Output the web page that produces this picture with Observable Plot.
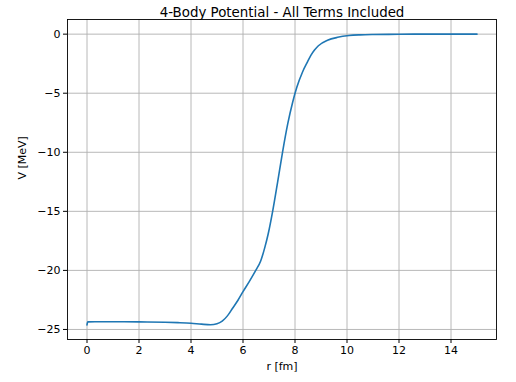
<!DOCTYPE html>
<html>
<head>
<meta charset="utf-8">
<script src="https://cdn.jsdelivr.net/npm/d3@7"></script>
<script src="https://cdn.jsdelivr.net/npm/@observablehq/plot@0.6"></script>
<style>
  html, body { margin: 0; padding: 0; background: #fff; }
  #chart svg { display: block; }
</style>
</head>
<body>
<div id="chart"></div>
<script>
const title = "4-Body Potential - All Terms Included";
const xLabel = "r [fm]";
const yLabel = "V [MeV]";
const xTicks = [0, 2, 4, 6, 8, 10, 12, 14];
const yTicks = [0, -5, -10, -15, -20, -25];

const rValues = [0, 0.03, 0.3, 1, 2, 3, 3.5, 4, 4.4, 4.75, 5.0, 5.2, 5.4, 5.6, 5.8, 6.0, 6.24, 6.49, 6.68, 6.84, 6.97, 7.14, 7.33, 7.52, 7.72, 7.91, 8.07, 8.29, 8.48, 8.61, 8.75, 8.9, 9.25, 9.64, 10.08, 10.5, 11, 12, 13, 14, 15];
const vValues = [-24.62, -24.36, -24.35, -24.35, -24.36, -24.39, -24.42, -24.47, -24.55, -24.6, -24.52, -24.3, -23.85, -23.2, -22.55, -21.8, -20.95, -20.0, -19.2, -18.05, -16.9, -15.0, -12.54, -10.0, -7.6, -5.76, -4.5, -3.2, -2.35, -1.8, -1.35, -0.98, -0.52, -0.27, -0.12, -0.06, -0.03, -0.01, 0, 0, 0];

const data = rValues.map((r, i) => ({r, v: vValues[i]}));

const font = "DejaVu Sans, sans-serif";

const chart = Plot.plot({
  width: 516,
  height: 382,
  marginLeft: 67,
  marginRight: 20,
  marginTop: 19,
  marginBottom: 43,
  style: {fontFamily: font, fontSize: "11px", color: "#000", background: "#fff"},
  x: {domain: [-0.75, 15.75]},
  y: {domain: [-25.85, 1.24]},
  marks: [
    Plot.gridX(xTicks, {stroke: "#b0b0b0", strokeOpacity: 1, strokeWidth: 0.9}),
    Plot.gridY(yTicks, {stroke: "#b0b0b0", strokeOpacity: 1, strokeWidth: 0.9}),
    Plot.line(data, {x: "r", y: "v", stroke: "#1f77b4", strokeWidth: 1.6, curve: "monotone-x"}),
    Plot.frame({stroke: "#000", strokeWidth: 0.9}),
    Plot.axisX(xTicks, {tickSize: 4, tickPadding: 3, fontSize: 11, label: null, stroke: "#000"}),
    Plot.axisY(yTicks, {tickSize: 4, tickPadding: 3, fontSize: 11, label: null, stroke: "#000"}),
    Plot.text([xLabel], {frameAnchor: "bottom", dy: 30, fontSize: 11, fill: "#000"}),
    Plot.text([yLabel], {frameAnchor: "left", dx: -45, rotate: -90, fontSize: 11, fill: "#000"}),
    Plot.text([title], {frameAnchor: "top", dy: -12, fontSize: 13.4, fill: "#000"})
  ]
});

document.getElementById("chart").appendChild(chart);
</script>
</body>
</html>
